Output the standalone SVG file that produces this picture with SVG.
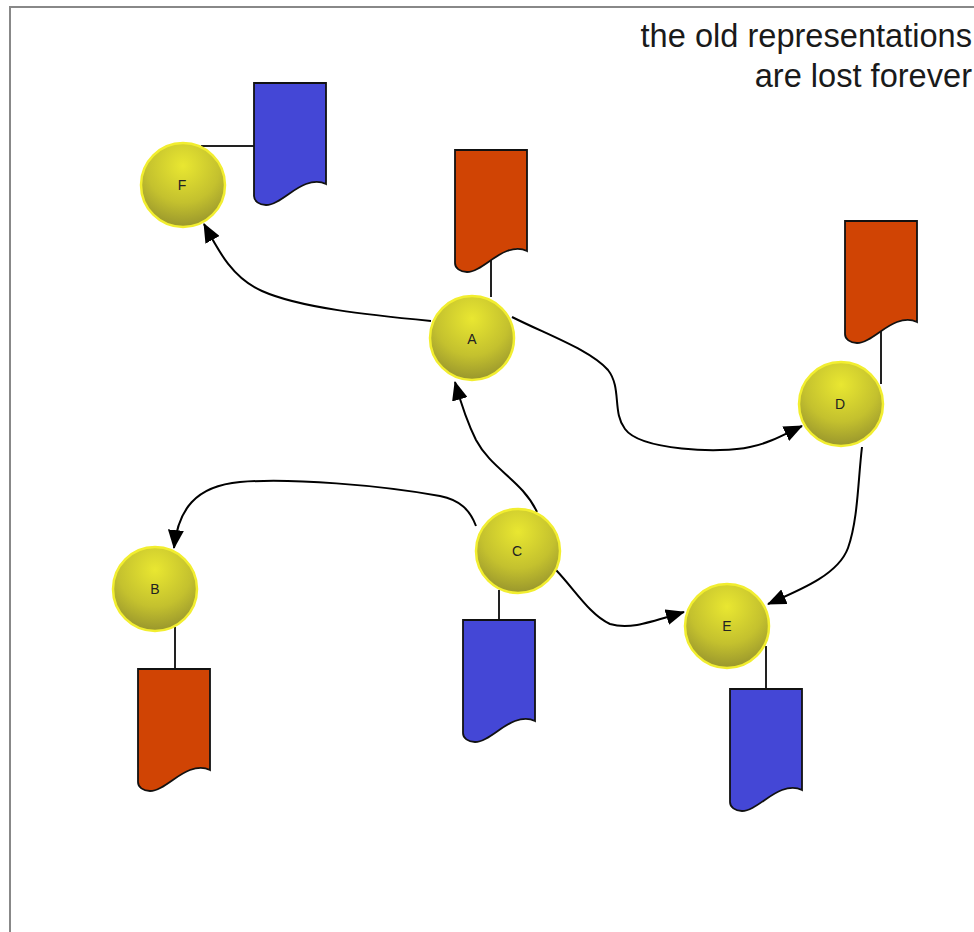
<svg xmlns="http://www.w3.org/2000/svg" width="974" height="932" viewBox="0 0 974 932">
<style>
.n{fill:url(#g);stroke:#f2ee30;stroke-width:2.5}
.l{font:14px "Liberation Sans",Arial,sans-serif;fill:#222;text-anchor:middle}
.t{font:32.6px "Liberation Sans",Arial,sans-serif;fill:#1a1a1a;text-anchor:end}
.c{fill:none;stroke:#000;stroke-width:2}
.s{fill:none;stroke:#222;stroke-width:2}
.r{fill:#d04404;stroke:#111;stroke-width:1.8}
.b{fill:#4447d6;stroke:#111;stroke-width:1.8}
</style>
<defs>
<radialGradient id="g" cx="0.5" cy="0.27" r="0.8">
<stop offset="0" stop-color="#e9e731"/>
<stop offset="0.55" stop-color="#c4c12e"/>
<stop offset="1" stop-color="#8f8c2c"/>
</radialGradient>
<marker id="a" markerUnits="userSpaceOnUse" markerWidth="20" markerHeight="16" refX="18" refY="8" orient="auto">
<path d="M0 0L19 8L0 16Z" fill="#000"/>
</marker>
<path id="doc" d="M0 0H72V101C66 98 60 98 52 101C38 106 24 122 12 122C5 122 0 118 0 113Z"/>
</defs>
<rect width="974" height="932" fill="#fff"/>
<path d="M974 7H10V932" fill="none" stroke="#888" stroke-width="2"/>
<text class="t" x="972" y="47">the old representations</text>
<text class="t" x="972" y="87">are lost forever</text>
<g id="connectors">
<path class="c" marker-end="url(#a)" d="M431 321C370 315 300 308 262 291C232 278 218 250 204 224"/>
<path class="c" marker-end="url(#a)" d="M512 317C550 336 590 350 608 370C622 388 612 412 625 429C640 450 720 454 750 447C770 443 785 434 802 426"/>
<path class="c" marker-end="url(#a)" d="M537 512C522 480 492 470 476 440C466 420 460 400 455 382"/>
<path class="c" marker-end="url(#a)" d="M476 526C470 510 460 500 440 496C380 485 290 478 240 482C195 486 178 510 174 548"/>
<path class="c" marker-end="url(#a)" d="M556 570C575 590 590 615 610 624C630 630 650 622 684 612"/>
<path class="c" marker-end="url(#a)" d="M862 447C858 480 858 520 848 548C838 575 800 590 768 604"/>
<path class="s" d="M201 146H254"/>
<path class="s" d="M491 255V297"/>
<path class="s" d="M881 325V384"/>
<path class="s" d="M175 627V669"/>
<path class="s" d="M499 590V620"/>
<path class="s" d="M766 646V689"/>
</g>
<g id="doc-f"><use href="#doc" class="b" x="254" y="83"/></g>
<g id="doc-a"><use href="#doc" class="r" x="455" y="150"/></g>
<g id="doc-d"><use href="#doc" class="r" x="845" y="221"/></g>
<g id="doc-b"><use href="#doc" class="r" x="138" y="669"/></g>
<g id="doc-c"><use href="#doc" class="b" x="463" y="620"/></g>
<g id="doc-e"><use href="#doc" class="b" x="730" y="689"/></g>
<g id="F"><circle class="n" cx="183" cy="185" r="42"/><text class="l" x="182" y="190">F</text></g>
<g id="A"><circle class="n" cx="472" cy="338" r="42"/><text class="l" x="472" y="344">A</text></g>
<g id="D"><circle class="n" cx="841" cy="404" r="42"/><text class="l" x="840" y="409">D</text></g>
<g id="C"><circle class="n" cx="518" cy="551" r="42"/><text class="l" x="517" y="556">C</text></g>
<g id="B"><circle class="n" cx="155" cy="589" r="42"/><text class="l" x="155" y="594">B</text></g>
<g id="E"><circle class="n" cx="727" cy="626" r="42"/><text class="l" x="727" y="631">E</text></g>
</svg>
